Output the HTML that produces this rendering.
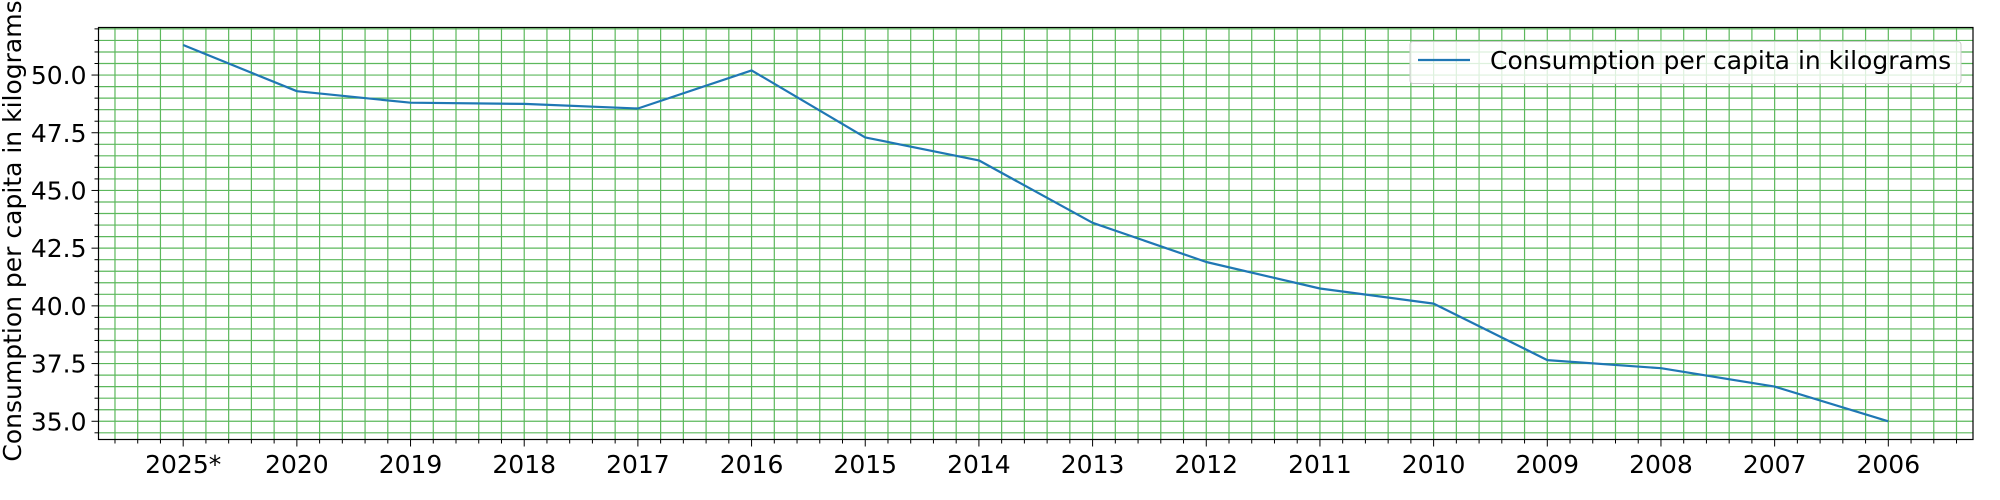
<!DOCTYPE html>
<html><head><meta charset="utf-8"><style>
html,body{margin:0;padding:0;background:#fff;}
svg{display:block;font-family:"DejaVu Sans","Liberation Sans",sans-serif;}
</style></head><body>
<svg id="chart" width="2000" height="500" xmlns="http://www.w3.org/2000/svg">
<g id="grid"></g>
<g id="ticks"></g>
<path id="series" fill="none" stroke="#1f77b4" stroke-width="2.2" stroke-linejoin="round"/>
<rect x="98.5" y="27.5" width="1874.5" height="412" fill="none" stroke="#000" stroke-width="1.2"/>
<text transform="translate(21,231) rotate(-90)" text-anchor="middle" font-size="25" fill="#000">Consumption per capita in kilograms</text>
<g>
<rect x="1410" y="41.5" width="551" height="42" rx="3" fill="#fff" fill-opacity="0.8" stroke="#ccc" stroke-width="1"/>
<line x1="1418" y1="60" x2="1470" y2="60" stroke="#1f77b4" stroke-width="2.2"/>
<text x="1490" y="69" font-size="25" fill="#000">Consumption per capita in kilograms</text>
</g>
</svg>
<script>
const categories = ["2025*","2020","2019","2018","2017","2016","2015","2014","2013","2012","2011","2010","2009","2008","2007","2006"];
const values = [51.3,49.3,48.8,48.75,48.55,50.2,47.3,46.3,43.6,41.9,40.75,40.1,37.65,37.3,36.5,35.0];
const yTicks = [35.0,37.5,40.0,42.5,45.0,47.5,50.0];
const L=98.5,R=1973,T=27.5,B=439.5;
const xMin=-0.745,xMax=categories.length-1+0.745;
const yMin=34.21,yMax=52.06;
const sx=v=>L+(v-xMin)/(xMax-xMin)*(R-L);
const sy=v=>B-(v-yMin)/(yMax-yMin)*(B-T);
const NS="http://www.w3.org/2000/svg";
const grid=document.getElementById('grid'),ticks=document.getElementById('ticks');
function ln(p,x1,y1,x2,y2,c,w){const e=document.createElementNS(NS,'line');e.setAttribute('x1',x1);e.setAttribute('y1',y1);e.setAttribute('x2',x2);e.setAttribute('y2',y2);e.setAttribute('stroke',c);e.setAttribute('stroke-width',w);p.appendChild(e);return e;}
const gc="#5cb85c";
for(let k=Math.ceil(xMin*5);k<=Math.floor(xMax*5);k++){const v=k/5,x=sx(v);const major=k%5===0;
const g=ln(grid,x,T,x,B,gc,1.2);


const t=ln(ticks,x,B,x,B+(major?7:4),'#000',1);

}
for(let k=Math.ceil(yMin*2);k<=Math.floor(yMax*2);k++){const v=k/2,y=sy(v);const major=k%5===0;
const g=ln(grid,L,y,R,y,gc,1.2);


const t=ln(ticks,L-(major?7:4),y,L,y,'#000',1);

}
categories.forEach((c,i)=>{const t=document.createElementNS(NS,'text');t.setAttribute('x',sx(i));t.setAttribute('y',473);t.setAttribute('text-anchor','middle');t.setAttribute('font-size','25');t.textContent=c;


ticks.appendChild(t);});
yTicks.forEach(v=>{const t=document.createElementNS(NS,'text');t.setAttribute('x',L-12);t.setAttribute('y',sy(v)+9);t.setAttribute('text-anchor','end');t.setAttribute('font-size','25');t.textContent=v.toFixed(1);


ticks.appendChild(t);});
document.getElementById('series').setAttribute('d',values.map((v,i)=>(i?'L':'M')+sx(i).toFixed(1)+','+sy(v).toFixed(1)).join(''));
</script>
</body></html>
